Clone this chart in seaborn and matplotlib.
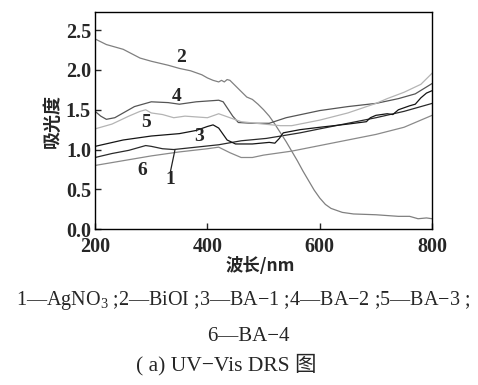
import matplotlib
matplotlib.use("Agg")
import matplotlib.pyplot as plt
import seaborn as sns
import pandas as pd

sns.set_theme(style="white")
plt.rcParams['font.family'] = ['Liberation Serif', 'Noto Sans CJK SC']
plt.rcParams['mathtext.fontset'] = 'custom'
plt.rcParams['mathtext.rm'] = 'Liberation Serif'

# ---- data ----
x1 = [200, 230, 260, 290, 300, 320, 340, 380, 420, 460, 505, 565, 600, 650, 700, 750, 800]
y1 = [0.90, 0.95, 0.99, 1.05, 1.04, 1.01, 1.00, 1.03, 1.06, 1.11, 1.14, 1.21, 1.26, 1.33, 1.40, 1.48, 1.58]

x2 = [200, 220, 250, 280, 300, 330, 350, 370, 390, 400, 410, 420, 425, 430, 435, 440, 450, 460, 470,
      480, 490, 500, 510, 520, 530, 540, 550, 560, 570, 580, 590, 600, 610, 620, 640, 660, 700, 740,
      760, 775, 790, 800]
y2 = [2.39, 2.32, 2.26, 2.15, 2.11, 2.06, 2.02, 1.99, 1.94, 1.90, 1.87, 1.85, 1.87, 1.85, 1.88, 1.87,
      1.80, 1.73, 1.66, 1.63, 1.57, 1.50, 1.42, 1.32, 1.21, 1.10, 0.98, 0.86, 0.73, 0.61, 0.49, 0.39,
      0.31, 0.26, 0.21, 0.19, 0.18, 0.16, 0.16, 0.13, 0.14, 0.13]

x3 = [200, 250, 300, 350, 380, 400, 410, 420, 435, 450, 480, 510, 520, 528, 535, 565, 600, 650, 683,
      690, 700, 720, 730, 740, 760, 770, 780, 790, 800]
y3 = [1.04, 1.12, 1.17, 1.20, 1.24, 1.29, 1.31, 1.27, 1.12, 1.07, 1.07, 1.09, 1.08, 1.14, 1.21, 1.25,
      1.28, 1.32, 1.35, 1.40, 1.43, 1.45, 1.44, 1.50, 1.55, 1.57, 1.65, 1.71, 1.74]

x4 = [200, 210, 220, 235, 250, 270, 300, 330, 350, 380, 400, 420, 428, 445, 455, 480, 510, 540, 600,
      650, 700, 740, 770, 800]
y4 = [1.48, 1.42, 1.38, 1.40, 1.46, 1.54, 1.60, 1.59, 1.57, 1.60, 1.61, 1.62, 1.60, 1.42, 1.34, 1.33,
      1.33, 1.40, 1.49, 1.54, 1.58, 1.64, 1.70, 1.83]

x5 = [200, 230, 260, 280, 290, 300, 320, 340, 360, 380, 400, 420, 440, 460, 500, 530, 550, 600, 650,
      700, 720, 750, 780, 800]
y5 = [1.26, 1.32, 1.42, 1.48, 1.50, 1.46, 1.44, 1.40, 1.42, 1.41, 1.40, 1.45, 1.40, 1.35, 1.32, 1.30,
      1.30, 1.37, 1.46, 1.58, 1.64, 1.72, 1.82, 1.96]

x6 = [200, 250, 300, 350, 400, 420, 440, 460, 480, 500, 550, 600, 650, 700, 750, 800]
y6 = [0.80, 0.86, 0.92, 0.97, 1.01, 1.03, 0.96, 0.90, 0.90, 0.93, 0.98, 1.05, 1.12, 1.19, 1.28, 1.43]

series_names = ["1", "2", "3", "4", "5", "6"]
series_x = [x1, x2, x3, x4, x5, x6]
series_y = [y1, y2, y3, y4, y5, y6]
series_colors = ["#2a2a2a", "#808080", "#151515", "#555555", "#b4b4b4", "#8a8a8a"]

xticks = [200, 400, 600, 800]
yticks = [0.0, 0.5, 1.0, 1.5, 2.0, 2.5]

fig = plt.figure(figsize=(4.78, 3.85), dpi=100)
ax = fig.add_axes([0.199, 0.405, 0.705, 0.564])

for name, xs, ys, c in zip(series_names, series_x, series_y, series_colors):
    df = pd.DataFrame({"x": xs, "y": ys})
    sns.lineplot(data=df, x="x", y="y", ax=ax, color=c, linewidth=0.9, sort=False)

ax.set_xlim(200, 800)
ax.set_ylim(0, 2.73)
ax.set_xticks(xticks)
ax.set_yticks(yticks)
ax.set_xticklabels([str(v) for v in xticks], fontsize=14.5, fontweight='bold')
ax.set_yticklabels([f"{v:.1f}" for v in yticks], fontsize=14.5, fontweight='bold')
ax.tick_params(direction='in', length=4, width=1, pad=3, bottom=True, left=True)
ax.tick_params(axis='x', pad=6)
for s in ax.spines.values():
    s.set_color('black')
    s.set_linewidth(1.0)

ax.set_xlabel("")
ax.set_ylabel("吸光度", fontsize=13, fontweight='bold', family=['Noto Sans CJK SC'], labelpad=3)

# curve labels
lab = dict(fontsize=14, fontweight='bold', ha='center', va='center')
ax.text(353, 2.16, "2", **lab)
ax.text(346, 1.67, "4", **lab)
ax.text(290, 1.34, "5", **lab)
ax.text(385, 1.17, "3", **lab)
ax.text(284, 0.74, "6", **lab)
ax.text(333, 0.62, "1", **lab)
ax.plot([334, 342], [0.72, 0.99], color="#222222", linewidth=0.9)

fig.text(0.544, 0.308, "波长/nm", fontsize=12.5, fontweight='bold', ha='center', va='center',
         family=['Noto Sans CJK SC'])
fig.text(0.509, 0.220, "1—AgNO$_3$ ;2—BiOI ;3—BA−1 ;4—BA−2 ;5—BA−3 ;", fontsize=14.5, ha='center', va='center')
fig.text(0.52, 0.126, "6—BA−4", fontsize=15, ha='center', va='center')
fig.text(0.474, 0.052, "( a) UV−Vis DRS 图", fontsize=15.5, ha='center', va='center')

fig.savefig("out.png", dpi=100)
